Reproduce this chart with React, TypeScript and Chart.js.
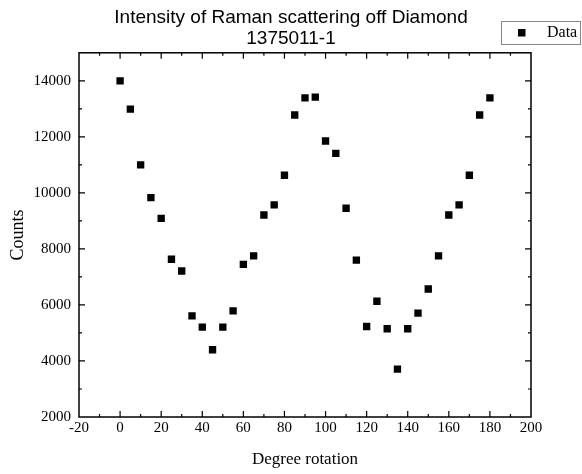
import React, { useEffect, useRef } from "react";
import { Chart, registerables } from "chart.js";

Chart.register(...registerables);

const titleLines = ["Intensity of Raman scattering off Diamond", "1375011-1"];
const xTitle = "Degree rotation";
const yTitle = "Counts";
const seriesLabel = "Data";

const degrees = [
  0, 5, 10, 15, 20, 25, 30, 35, 40, 45, 50, 55, 60, 65, 70, 75, 80, 85, 90,
  95, 100, 105, 110, 115, 120, 125, 130, 135, 140, 145, 150, 155, 160, 165,
  170, 175, 180,
];
const counts = [
  14000, 12990, 11000, 9830, 9090, 7630, 7210, 5610, 5210, 4400, 5210, 5790,
  7450, 7750, 9210, 9570, 10630, 12780, 13390, 13420, 11850, 11410, 9450, 7600,
  5230, 6130, 5150, 3710, 5150, 5710, 6570, 7750, 9210, 9570, 10630, 12780,
  13390,
];

const xTickValues = [-20, 0, 20, 40, 60, 80, 100, 120, 140, 160, 180, 200];
const yTickValues = [2000, 4000, 6000, 8000, 10000, 12000, 14000];
const xMin = -20;
const xMax = 200;
const xMajor = 20;
const xMinor = 10;
const yMin = 2000;
const yMax = 15000;
const yMajor = 2000;
const yMinor = 1000;

const framePlugin = {
  id: "originFrame",
  afterDraw(chart: any) {
    const { ctx, chartArea } = chart;
    const xs = chart.scales.x;
    const ys = chart.scales.y;
    const { left, right, top, bottom } = chartArea;
    ctx.save();
    ctx.strokeStyle = "#000";
    ctx.lineWidth = 1.5;
    ctx.strokeRect(left, top, right - left, bottom - top);
    ctx.lineWidth = 1.2;
    ctx.beginPath();
    for (let v = xMin + xMinor; v < xMax; v += xMinor) {
      const p = xs.getPixelForValue(v);
      const len = Math.abs((v - xMin) % xMajor) < 1e-6 ? 6 : 3;
      ctx.moveTo(p, bottom);
      ctx.lineTo(p, bottom - len);
      ctx.moveTo(p, top);
      ctx.lineTo(p, top + len);
    }
    for (let v = yMin + yMinor; v < yMax; v += yMinor) {
      const p = ys.getPixelForValue(v);
      const len = Math.abs((v - yMin) % yMajor) < 1e-6 ? 6 : 3;
      ctx.moveTo(left, p);
      ctx.lineTo(left + len, p);
      ctx.moveTo(right, p);
      ctx.lineTo(right - len, p);
    }
    ctx.stroke();

    // legend box
    const bx = 501, by = 21, bw = 79, bh = 23;
    ctx.lineWidth = 1;
    ctx.strokeStyle = "#888";
    ctx.strokeRect(bx + 0.5, by + 0.5, bw, bh);
    ctx.fillStyle = "#000";
    ctx.fillRect(518, 29, 7.5, 7.5);
    ctx.font = "16px 'Liberation Serif'";
    ctx.textBaseline = "middle";
    ctx.textAlign = "left";
    ctx.fillText(seriesLabel, 547, 33);
    ctx.restore();
  },
};

export default function App() {
  const ref = useRef<HTMLCanvasElement | null>(null);
  useEffect(() => {
    if (!ref.current) return;
    const chart = new Chart(ref.current, {
      type: "scatter",
      data: {
        datasets: [
          {
            label: seriesLabel,
            data: degrees.map((d, i) => ({ x: d, y: counts[i] })),
            pointStyle: "rect",
            pointRadius: 5.2,
            pointHoverRadius: 5.2,
            backgroundColor: "#000",
            borderColor: "#000",
            borderWidth: 0,
          },
        ],
      },
      options: {
        responsive: false,
        animation: false,
        layout: { padding: 0 },
        plugins: {
          legend: { display: false },
          tooltip: { enabled: false },
          title: {
            display: true,
            text: titleLines,
            color: "#000",
            font: { family: "'Liberation Sans'", size: 19, weight: "normal", lineHeight: 1.1 },
            padding: { top: 7, bottom: 4 },
          },
        },
        scales: {
          x: {
            type: "linear",
            min: xMin,
            max: xMax,
            grid: { display: false, drawTicks: false },
            border: { display: false },
            afterBuildTicks: (s: any) => {
              s.ticks = xTickValues.map((v) => ({ value: v }));
            },
            ticks: {
              color: "#000",
              padding: 2,
              maxRotation: 0,
              autoSkip: false,
              font: { family: "'Liberation Serif'", size: 15 },
            },
            title: {
              display: true,
              text: xTitle,
              color: "#000",
              font: { family: "'Liberation Serif'", size: 17 },
              padding: { top: 0, bottom: 4 },
            },
            afterFit: (s: any) => {
              s.height = 57;
            },
          },
          y: {
            type: "linear",
            min: yMin,
            max: yMax,
            grid: { display: false, drawTicks: false },
            border: { display: false },
            afterBuildTicks: (s: any) => {
              s.ticks = yTickValues.map((v) => ({ value: v }));
            },
            ticks: {
              color: "#000",
              padding: 8,
              autoSkip: false,
              callback: (v: any) => String(v),
              font: { family: "'Liberation Serif'", size: 15 },
            },
            title: {
              display: true,
              text: yTitle,
              color: "#000",
              font: { family: "'Liberation Serif'", size: 18 },
              padding: { top: 7.5, bottom: 0 },
            },
            afterFit: (s: any) => {
              s.width = 79;
            },
          },
          yRight: {
            type: "linear",
            position: "right",
            display: true,
            grid: { display: false, drawTicks: false },
            border: { display: false },
            ticks: { display: false },
            afterFit: (s: any) => {
              s.width = 51;
            },
          },
        },
      },
      plugins: [framePlugin],
    });
    return () => chart.destroy();
  }, []);
  return (
    <div style={{ position: "absolute", left: 0, top: 0, width: 582, height: 474, background: "#fff" }}>
      <canvas ref={ref} width={582} height={474} />
    </div>
  );
}
